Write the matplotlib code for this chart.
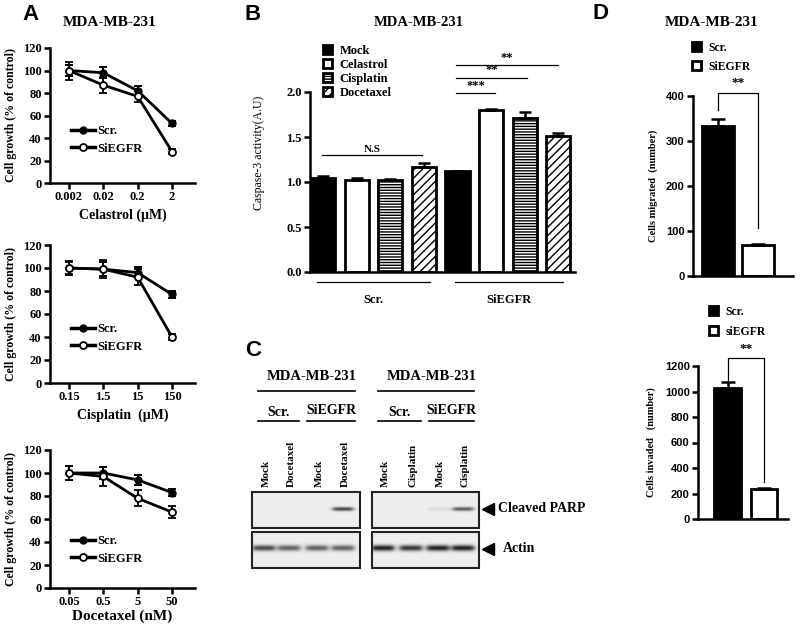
import matplotlib
matplotlib.use("Agg")
import matplotlib.pyplot as plt
import numpy as np
from matplotlib.lines import Line2D
from matplotlib.patches import Rectangle

SERIF = "Liberation Serif"
SANS = "Liberation Sans"
plt.rcParams["font.family"] = SERIF
plt.rcParams["font.weight"] = "bold"
plt.rcParams["axes.labelweight"] = "bold"
plt.rcParams["hatch.linewidth"] = 1.0

# ---- A: cell growth (% of control)
cel_doses = ["0.002", "0.02", "0.2", "2"]
cel_scr = [100, 98, 82, 53]
cel_scr_err = [5, 5, 4, 2]
cel_si = [100, 87, 77, 28]
cel_si_err = [8, 7, 5, 2]

cis_doses = ["0.15", "1.5", "15", "150"]
cis_scr = [100, 99, 96, 77]
cis_scr_err = [6, 6, 5, 3]
cis_si = [100, 99, 92, 40]
cis_si_err = [5, 8, 7, 3]

doc_doses = ["0.05", "0.5", "5", "50"]
doc_scr = [100, 100, 94, 83]
doc_scr_err = [6, 5, 4, 3]
doc_si = [100, 97, 78, 66]
doc_si_err = [6, 8, 7, 5]

# ---- B: caspase-3 activity
treatments = ["Mock", "Celastrol", "Cisplatin", "Docetaxel"]
casp_scr = [1.04, 1.02, 1.02, 1.17]
casp_scr_err = [0.03, 0.02, 0.01, 0.04]
casp_si = [1.12, 1.80, 1.71, 1.51]
casp_si_err = [0.005, 0.01, 0.07, 0.04]

# ---- C: western blot band strengths (0 = none, 1 = saturated)
lanes_left = ["Mock", "Docetaxel", "Mock", "Docetaxel"]
lanes_right = ["Mock", "Cisplatin", "Mock", "Cisplatin"]
parp_left = [0, 0, 0, 0.75]
parp_right = [0, 0, 0.08, 0.65]
actin_left = [0.72, 0.62, 0.62, 0.62]
actin_right = [0.92, 0.82, 0.92, 0.92]

# ---- D: migration / invasion
migrated = [333, 70]
migrated_err = [15, 2]
invaded = [1025, 235]
invaded_err = [50, 8]

W, H = 800, 627
fig = plt.figure(figsize=(W / 100, H / 100), dpi=100)

ov = fig.add_axes([0, 0, 1, 1])
ov.set_xlim(0, W)
ov.set_ylim(H, 0)
ov.axis("off")


def px_axes(l, t, r, b):
    return fig.add_axes([l / W, 1 - b / H, (r - l) / W, (b - t) / H])


def style(ax, size=8.5, family=SERIF, lw=1.8):
    ax.spines["top"].set_visible(False)
    ax.spines["right"].set_visible(False)
    ax.spines["left"].set_linewidth(lw)
    ax.spines["bottom"].set_linewidth(lw)
    ax.tick_params(width=lw, length=4, labelsize=size, pad=2)
    for lab in ax.get_xticklabels() + ax.get_yticklabels():
        lab.set_fontfamily(family)
        lab.set_fontweight("bold")


def fig_legend(ax, handles, labels, x, y, size, spacing, **kw):
    return ax.legend(handles, labels, loc="upper left",
                     bbox_to_anchor=(x / W, 1 - y / H), bbox_transform=fig.transFigure,
                     frameon=False, borderpad=0, borderaxespad=0,
                     labelspacing=spacing, prop={"family": SERIF, "weight": "bold", "size": size},
                     **kw)


# ================= A =================
ov.text(22, 4, "A", family=SANS, fontsize=16, va="top")
ov.text(110, 22, "MDA-MB-231", fontsize=11, ha="center", va="center")


def growth(box, doses, scr, scr_e, si, si_e, xlabel, xsize, pad, leg_y):
    ax = px_axes(*box)
    x = np.arange(len(doses))
    kw = dict(color="black", lw=2, marker="o", ms=5, capsize=3, elinewidth=1.4, capthick=1.4)
    ax.errorbar(x, scr, yerr=scr_e, mfc="black", **kw)
    ax.errorbar(x, si, yerr=si_e, mfc="white", mew=1.3, **kw)
    ax.set_xlim(-0.55, 3.67)
    ax.set_ylim(0, 120)
    ax.set_xticks(x, doses)
    ax.set_yticks(range(0, 121, 20))
    ax.set_xlabel(xlabel, fontsize=xsize, labelpad=pad)
    ax.set_ylabel("Cell growth (% of control)", fontsize=8.5, labelpad=4)
    style(ax, size=9)
    h = [Line2D([], [], color="black", lw=2.5, marker="o", ms=5, mfc="black"),
         Line2D([], [], color="black", lw=2.5, marker="o", ms=5, mfc="white", mew=1.3)]
    fig_legend(ax, h, ["Scr.", "SiEGFR"], 71, leg_y, 9, 0.45,
               handlelength=1.9, handletextpad=0.2)
    return ax


growth((50, 48, 195, 183), cel_doses, cel_scr, cel_scr_err, cel_si, cel_si_err,
       "Celastrol (\u00b5M)", 10, 4, 125)
growth((50, 245, 195, 383), cis_doses, cis_scr, cis_scr_err, cis_si, cis_si_err,
       "Cisplatin  (\u00b5M)", 10, 4, 323)
growth((50, 450, 195, 588), doc_doses, doc_scr, doc_scr_err, doc_si, doc_si_err,
       "Docetaxel (nM)", 11, 0.5, 535)

# ================= B =================
ov.text(245, 4, "B", family=SANS, fontsize=16, va="top")
ov.text(419, 22, "MDA-MB-231", fontsize=10.5, ha="center", va="center")

axB = px_axes(310, 92, 575, 272)
vals = casp_scr + casp_si
errs = casp_scr_err + casp_si_err
fills = ["black", "white", "white", "white"] * 2
hatches = ["", "", "------", "////"] * 2
xb = np.arange(len(vals))
bars = []
for i in range(len(vals)):
    b = axB.bar(xb[i], vals[i], width=0.72, color=fills[i], edgecolor="black", linewidth=2,
                hatch=hatches[i], yerr=[[0], [errs[i]]],
                error_kw=dict(ecolor="black", elinewidth=1.8, capsize=4, capthick=1.8))
    bars.append(b[0])
axB.set_xlim(-0.39, 7.5)
axB.set_ylim(0, 2.0)
axB.set_xticks([])
axB.set_yticks([0, 0.5, 1.0, 1.5, 2.0])
axB.yaxis.set_major_formatter(matplotlib.ticker.FormatStrFormatter("%.1f"))
style(axB, size=9)
axB.set_ylabel("Caspase-3 activity(A.U)", fontsize=8.5, fontweight="normal")
axB.yaxis.set_label_coords(-0.17, 0.66)
fig_legend(axB, bars[:4], treatments, 323, 45, 9, 0.15,
           handlelength=0.75, handleheight=0.75, handletextpad=0.6)

for x0, x1, lab in [(-0.18, 3.18, "Scr."), (3.93, 7.14, "SiEGFR")]:
    axB.plot([x0, x1], [-0.11, -0.11], color="black", lw=0.9, clip_on=False)
    axB.text((x0 + x1) / 2, -0.31, lab, fontsize=9, ha="center", va="center")

sig = [(-0.03, 2.95, 1.30, "N.S", 8), (3.96, 5.12, 1.99, "***", 9),
       (3.96, 6.07, 2.16, "**", 9), (3.96, 7.0, 2.30, "**", 9)]
for x0, x1, y, lab, fs in sig:
    axB.plot([x0, x1], [y, y], color="black", lw=0.9, clip_on=False)
    axB.text((x0 + x1) / 2, y + 0.015, lab, fontsize=fs, ha="center", va="bottom")

# ================= C =================
ov.text(245, 340, "C", family=SANS, fontsize=16, va="top")


def blot(x0, x1, y0, y1, lanes, levels, yc, sy, hw):
    w, h = int(x1 - x0), int(y1 - y0)
    xx, yy = np.meshgrid(np.arange(w) + x0 + 0.5, np.arange(h) + y0 + 0.5)
    dark = np.zeros((h, w))
    for xc, lev in zip(lanes, levels):
        win = 1 / (1 + np.exp((np.abs(xx - xc) - hw) / 1.5))
        dark += lev * np.exp(-((yy - yc) / sy) ** 2) * win
    img = 0.93 - 0.88 * np.clip(dark, 0, 1)
    ov.imshow(img, cmap="gray", vmin=0, vmax=1, extent=(x0, x1, y1, y0),
              aspect="auto", interpolation="bilinear", zorder=1)
    ov.add_patch(Rectangle((x0, y0), x1 - x0, y1 - y0, fill=False, lw=1.5,
                           ec="#222222", zorder=2))


blots = [
    (252, 360, [264, 289, 317, 343], lanes_left, parp_left, actin_left, 312),
    (372, 479, [383, 411, 438, 463], lanes_right, parp_right, actin_right, 432),
]
for x0, x1, lane_x, names, parp, actin, cx in blots:
    blot(x0, x1, 492, 528, lane_x, parp, 509, 2.0, 10)
    blot(x0, x1, 532, 568, lane_x, actin, 548, 3.0, 11)
    for lx, name in zip(lane_x, names):
        ov.text(lx + 2, 487, name, rotation=90, fontsize=8, ha="center", va="bottom")
    ov.text(cx, 377, "MDA-MB-231", fontsize=10.5, ha="center", va="center")
    ov.plot([x0 + 6, x1 - 5], [391, 391], color="black", lw=1.2)
    mid = (lane_x[1] + lane_x[2]) / 2
    ov.text((x0 + 6 + mid - 4) / 2, 413, "Scr.", fontsize=10, ha="center", va="center")
    ov.plot([x0 + 6, mid - 4], [421, 421], color="black", lw=1.2)
    ov.text((mid + 4 + x1 - 5) / 2, 410, "SiEGFR", fontsize=10, ha="center", va="center")
    ov.plot([mid + 4, x1 - 5], [421, 421], color="black", lw=1.2)

for y, lab in [(509, "Cleaved PARP"), (549, "Actin")]:
    ov.plot([488], [y], marker="<", ms=8, color="black")
    ov.text(498 if lab != "Actin" else 503, y, lab, fontsize=10, ha="left", va="center")

# ================= D =================
ov.text(593, 3, "D", family=SANS, fontsize=16, va="top")
ov.text(712, 22, "MDA-MB-231", fontsize=11, ha="center", va="center")


def bar_pair(box, vals, errs, width, xlim, ylim, yticks, ylabel, bracket, star_y):
    ax = px_axes(*box)
    xs = np.arange(2)
    hs = ax.bar(xs, vals, width=width, color=["black", "white"], edgecolor="black", linewidth=2,
                yerr=[[0, 0], errs],
                error_kw=dict(ecolor="black", elinewidth=1.8, capsize=5, capthick=1.8))
    ax.set_xlim(*xlim)
    ax.set_ylim(*ylim)
    ax.set_xticks([])
    ax.set_yticks(yticks)
    style(ax, size=8, family=SANS)
    ax.set_ylabel(ylabel, fontsize=7.5, labelpad=6)
    ax.plot([0, 0, 1, 1], bracket, color="black", lw=0.9, clip_on=False)
    ax.text(0.5, star_y, "**", fontsize=9.5, ha="center", va="center")
    return ax, hs


axD1, hd1 = bar_pair((693, 96, 793, 276), migrated, migrated_err, 0.78, (-0.625, 1.875),
                     (0, 400), range(0, 401, 100), "Cells migrated  (number)",
                     [369, 407, 407, 107], 428)
fig_legend(axD1, list(hd1), ["Scr.", "SiEGFR"], 692, 42, 8.5, 0.6,
           handlelength=0.8, handleheight=0.8, handletextpad=0.6)

axD2, hd2 = bar_pair((698, 366, 788, 519), invaded, invaded_err, 0.73, (-0.81, 1.66),
                     (0, 1200), range(0, 1201, 200), "Cells invaded   (number)",
                     [1090, 1263, 1263, 290], 1330)
fig_legend(axD2, list(hd2), ["Scr.", "siEGFR"], 709, 306, 8.5, 0.65,
           handlelength=0.8, handleheight=0.8, handletextpad=0.6)

fig.savefig("out.png", dpi=100)
